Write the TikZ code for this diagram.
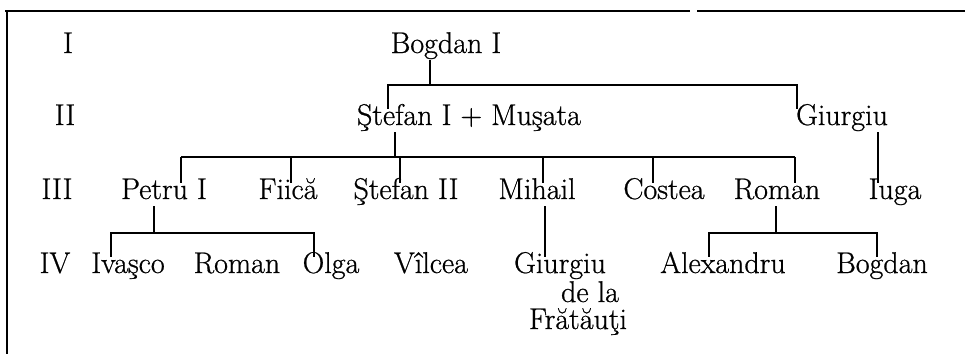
\documentclass[tikz,border=0pt]{standalone}
\usepackage{fontspec}
\usepackage{tikz}

\newfontfamily\treefont{Latin Modern Roman}[FakeBold=0.7]

\tikzset{
  person/.style={anchor=base, inner sep=1pt, text height=0.7em, text depth=0.25em,
                 font=\treefont\fontsize{15}{18}\selectfont},
  extra/.style={person, inner sep=0pt, text height=0.66em, text depth=0.14em},
  link/.style={line width=0.8pt},
  frame/.style={line width=1.2pt}
}

\begin{document}
\begin{tikzpicture}[x=0.5pt, y=-0.5pt]
            \useasboundingbox (0,0) rectangle (965,354);

            % frame
            \draw[frame] (5,11) -- (690,11);
            \draw[frame] (697,11) -- (965,11);
            \draw[frame] (7,11) -- (7,354);

            % generations
            \node[person] (genI)   at (68,53)  {I};
            \node[person] (genII)  at (65,125) {II};
            \node[person] (genIII) at (57,199) {III};
            \node[person] (genIV)  at (55,273) {IV};

            \node[person] (bogdanI) at (446,53)  {Bogdan I};
            \node[person] (stefanI) at (469,125) {Ştefan I + Muşata};
            \node[person] (giurgiu) at (842,125) {Giurgiu};

            \node[person] (petru)    at (164,199) {Petru I};
            \node[person] (fiica)    at (288,199) {Fiică};
            \node[person] (stefanII) at (406,199) {Ştefan II};
            \node[person] (mihail)   at (537,199) {Mihail};
            \node[person] (costea)   at (664,199) {Costea};
            \node[person] (roman)    at (777,199) {Roman};
            \node[person] (iuga)     at (895,199) {Iuga};

            \node[person] (ivasco)    at (128,273) {Ivaşco};
            \node[person] (romanB)    at (237,273) {Roman};
            \node[person] (olga)      at (331,273) {Olga};
            \node[person] (vilcea)    at (431,273) {Vîlcea};
            \node[person] (giurgiuF)  at (560,273) {Giurgiu};
            \node[extra]  (dela)      at (590,302) {de la};
            \node[extra]  (fratauti)  at (578,329) {Frătăuţi};
            \node[person] (alexandru) at (723,273) {Alexandru};
            \node[person] (bogdanB)   at (882,273) {Bogdan};

            % Bogdan I
            \coordinate (forkA) at (430,85);
            \coordinate (barAl) at (388,85);
            \coordinate (barAr) at (797,85);
            \draw[link] (bogdanI.south -| forkA) -- (forkA);
            \draw[link] (stefanI.north -| barAl) -- (barAl) -- (barAr) -- (giurgiu.north -| barAr);

            % Stefan I
            \coordinate (forkB) at (395,157);
            \draw[link] (stefanI.south -| forkB) -- (forkB);
            \foreach \n/\x in {petru/181, fiica/291, stefanII/400, mihail/543, costea/653, roman/795} {
              \coordinate (t\n) at (\x,157);
              \draw[link] (t\n) -- (\n.north -| t\n);
            }
            \draw[link] (tpetru) -- (troman);

            % Giurgiu
            \coordinate (tiuga) at (878,150);
            \draw[link] (giurgiu.south -| tiuga) -- (iuga.north -| tiuga);

            % Petru I
            \coordinate (forkC) at (154,233);
            \coordinate (barCl) at (111,233);
            \coordinate (barCr) at (314,233);
            \draw[link] (petru.south -| forkC) -- (forkC);
            \draw[link] (ivasco.north -| barCl) -- (barCl) -- (barCr) -- (olga.north -| barCr);

            % Mihail
            \coordinate (tgiurgiuF) at (545,230);
            \draw[link] (mihail.south -| tgiurgiuF) -- (giurgiuF.north -| tgiurgiuF);

            % Roman
            \coordinate (forkD) at (776,233);
            \coordinate (barDl) at (709,233);
            \coordinate (barDr) at (877,233);
            \draw[link] (roman.south -| forkD) -- (forkD);
            \draw[link] (alexandru.north -| barDl) -- (barDl) -- (barDr) -- (bogdanB.north -| barDr);
        \end{tikzpicture}
\end{document}
